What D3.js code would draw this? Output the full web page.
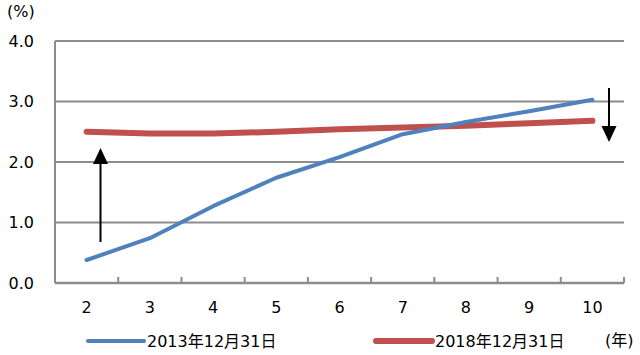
<!DOCTYPE html>
<html>
<head>
<meta charset="utf-8">
<script src="https://cdn.jsdelivr.net/npm/d3@7"></script>
<style>
  body { margin: 0; background: #fff; }
  text { font-family: Verdana, "DejaVu Sans", "Noto Sans CJK JP", sans-serif; fill: #000; font-size: 16px; }
</style>
</head>
<body>
<svg width="640" height="355"></svg>
<script>
// maturities (years) and yields (%)
var years = ["2", "3", "4", "5", "6", "7", "8", "9", "10"];
var yield2013 = [0.38, 0.74, 1.27, 1.74, 2.08, 2.46, 2.66, 2.84, 3.03];
var yield2018 = [2.50, 2.47, 2.47, 2.50, 2.54, 2.57, 2.60, 2.64, 2.68];
var yTicks = [0, 1, 2, 3, 4];
var seriesNames = ["2013年12月31日", "2018年12月31日"];

var svg = d3.select("svg"),
    margin = {top: 41, right: 16, bottom: 72, left: 55},
    width = +svg.attr("width") - margin.left - margin.right,
    height = +svg.attr("height") - margin.top - margin.bottom,
    g = svg.append("g").attr("transform", "translate(" + margin.left + "," + margin.top + ")");

var x = d3.scaleBand().domain(years).range([0, width]);
var y = d3.scaleLinear().domain([0, 4]).range([height, 0]);

// gridlines
g.selectAll(".grid")
  .data(yTicks.slice(1))
  .enter().append("line")
    .attr("x1", 0).attr("x2", width)
    .attr("y1", function(d) { return y(d); })
    .attr("y2", function(d) { return y(d); })
    .attr("stroke", "#8c8c8c").attr("stroke-width", 2);

// y axis line and labels
g.append("line")
    .attr("x1", 0).attr("x2", 0).attr("y1", y(4)).attr("y2", height)
    .attr("stroke", "#8c8c8c").attr("stroke-width", 2);

g.selectAll(".ylab")
  .data(yTicks)
  .enter().append("text")
    .attr("x", -21).attr("y", function(d) { return y(d); })
    .attr("dy", "0.35em")
    .attr("text-anchor", "end")
    .text(function(d) { return d3.format(".1f")(d); });

svg.append("text").attr("x", 7).attr("y", 17).text("(%)");

// x axis line with inward ticks at band edges
g.append("line")
    .attr("x1", 0).attr("x2", width).attr("y1", height).attr("y2", height)
    .attr("stroke", "#8c8c8c").attr("stroke-width", 2.5);

g.selectAll(".tick")
  .data(years.slice(1).concat(["end"]))
  .enter().append("line")
    .attr("x1", function(d, i) { return x.step() * (i + 1); })
    .attr("x2", function(d, i) { return x.step() * (i + 1); })
    .attr("y1", height - 6).attr("y2", height)
    .attr("stroke", "#8c8c8c").attr("stroke-width", 2);

g.selectAll(".xlab")
  .data(years)
  .enter().append("text")
    .attr("x", function(d) { return x(d) + x.bandwidth() / 2; })
    .attr("y", height + 30)
    .attr("text-anchor", "middle")
    .text(function(d) { return d; });

// series lines
var line = function(vals) {
  return d3.line()
    .x(function(d, i) { return x(years[i]) + x.bandwidth() / 2; })
    .y(function(d) { return y(d); })(vals);
};

g.append("path").attr("d", line(yield2018))
    .attr("fill", "none").attr("stroke", "#c0504d").attr("stroke-width", 6)
    .attr("stroke-linecap", "round").attr("stroke-linejoin", "round");

g.append("path").attr("d", line(yield2013))
    .attr("fill", "none").attr("stroke", "#4f81bd").attr("stroke-width", 4)
    .attr("stroke-linecap", "round").attr("stroke-linejoin", "round");

// arrows
function arrow(cx, yStart, yTip) {
  var dir = yTip < yStart ? 1 : -1;
  svg.append("line")
      .attr("x1", cx).attr("x2", cx).attr("y1", yStart).attr("y2", yTip + dir * 10)
      .attr("stroke", "#000").attr("stroke-width", 2);
  svg.append("path")
      .attr("d", "M" + (cx - 7.5) + "," + (yTip + dir * 16) + "L" + (cx + 7.5) + "," + (yTip + dir * 16) + "L" + cx + "," + yTip + "Z")
      .attr("fill", "#000");
}
arrow(100.5, 242, 148);
arrow(609, 88, 142);

// legend
var legend = [
  {name: seriesNames[0], color: "#4f81bd", w: 4, x: 88},
  {name: seriesNames[1], color: "#c0504d", w: 6, x: 376}
];
legend.forEach(function(d) {
  svg.append("line")
      .attr("x1", d.x).attr("x2", d.x + 56).attr("y1", 341).attr("y2", 341)
      .attr("stroke", d.color).attr("stroke-width", d.w).attr("stroke-linecap", "round");
  svg.append("text").attr("x", d.x + 59).attr("y", 347).text(d.name);
});
svg.append("text").attr("x", 605).attr("y", 346).text("(年)");
</script>
</body>
</html>
